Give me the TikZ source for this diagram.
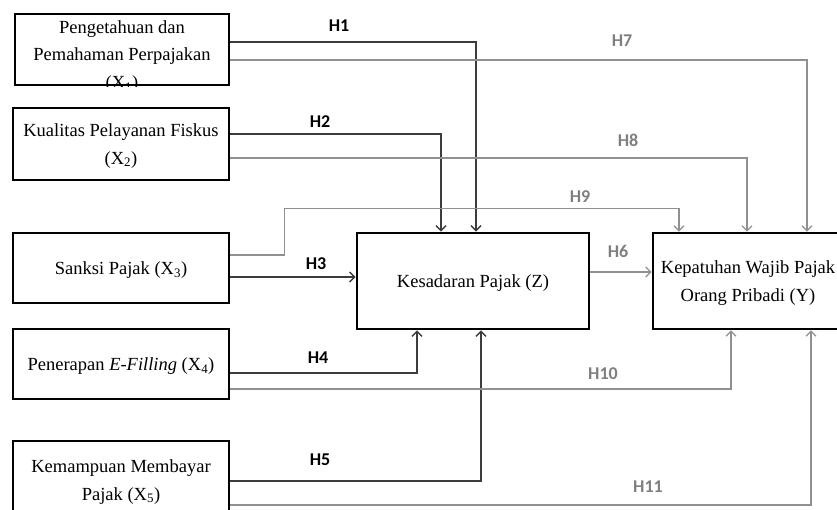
\documentclass[tikz,border=0pt]{standalone}
\usepackage{fontspec}
\setmainfont{Liberation Serif}
\newfontfamily\hypfont{Carlito}
\usepackage{xcolor}
\usetikzlibrary{arrows.meta,positioning,calc}

\definecolor{darkline}{HTML}{3C3C3C}
\definecolor{greyline}{HTML}{909090}
\definecolor{greylabel}{HTML}{7F7F7F}

\begin{document}
\begin{tikzpicture}[x=1pt,y=-1pt,
    >={Straight Barb[length=5pt,width=10pt]},
    boxtext/.style={align=center, inner sep=0pt, text depth=0pt,
        font=\fontsize{18.5}{27.5}\selectfont},
    varbox/.style={boxtext, draw, line width=2.6pt},
    thinbox/.style={draw, line width=1.1pt},
    darkarrow/.style={->, darkline, line width=1.4pt},
    greyarrow/.style={->, greyline, line width=1.3pt},
    hyp/.style={font=\hypfont\bfseries\fontsize{18}{18}\selectfont},
    hypgrey/.style={hyp, text=greylabel}]
    \clip (0,0) rectangle (837,509);

    % Independent variables
    \node[thinbox, minimum width=214pt, minimum height=71pt] (x1) at (122,49.5) {};
    \node[boxtext] (x1text) at ([yshift=-5pt]x1.center)
        {Pengetahuan dan\\Pemahaman Perpajakan\\(X\textsubscript{1})};
    \fill[white] (10,86.5) rectangle (235,100);
    \node[varbox, minimum width=216pt, minimum height=72pt] (x2) at (121,144)
        {Kualitas Pelayanan Fiskus\\(X\textsubscript{2})};
    \node[varbox, minimum width=216pt, minimum height=70pt] (x3) at (121,268)
        {Sanksi Pajak (X\textsubscript{3})};
    \node[varbox, minimum width=216pt, minimum height=70pt] (x4) at (121,364)
        {Penerapan \textit{E-Filling} (X\textsubscript{4})};
    \node[varbox, minimum width=216pt, minimum height=78pt] (x5) at (121,480)
        {Kemampuan Membayar\\Pajak (X\textsubscript{5})};

    % Intervening and dependent variable
    \node[varbox, minimum width=232pt, minimum height=96pt] (z) at (473,281)
        {Kesadaran Pajak (Z)};
    \node[varbox, minimum width=190pt, minimum height=96pt] (y) at (748,281)
        {Kepatuhan Wajib Pajak\\Orang Pribadi (Y)};

    % Paths to Z
    \draw[darkarrow] ([yshift=7.5pt]x1.east) -| ([xshift=3pt]z.north);
    \draw[darkarrow] ([yshift=10pt]x2.east) -| ([xshift=-32pt]z.north);
    \draw[darkarrow] ([yshift=-9pt]x3.east) -- ([yshift=4pt]z.west);
    \draw[darkarrow] ([yshift=-9pt]x4.east) -| ([xshift=-56pt]z.south);
    \draw[darkarrow] ([yshift=-1pt]x5.east) -| ([xshift=8pt]z.south);

    % Paths to Y
    \draw[greyarrow] ([yshift=9pt]z.east) -- ([yshift=9pt]y.west);
    \draw[greyarrow] ([yshift=-10.5pt]x1.east) -| ([xshift=59pt]y.north);
    \draw[greyarrow] ([yshift=-14pt]x2.east) -| ([xshift=-1pt]y.north);
    \draw[greyarrow] ([yshift=13pt]x3.east) -- ++(54,0)
        |- ([xshift=-69pt,yshift=23pt]y.north) -- ([xshift=-69pt]y.north);
    \draw[greyarrow] ([yshift=-25pt]x4.east) -| ([xshift=-17pt]y.south);
    \draw[greyarrow] ([yshift=-25pt]x5.east) -| ([xshift=63pt]y.south);

    % Hypothesis labels
    \node[hyp] (h1) at (339,26) {H1};
    \node[hyp] (h2) at (320,122) {H2};
    \node[hyp] (h3) at (316,264) {H3};
    \node[hyp] (h4) at (318,358) {H4};
    \node[hyp] (h5) at (320,460) {H5};
    \node[hypgrey] (h6) at (618,251) {H6};
    \node[hypgrey] (h7) at (622,41) {H7};
    \node[hypgrey] (h8) at (628,140) {H8};
    \node[hypgrey] (h9) at (580,197) {H9};
    \node[hypgrey] (h10) at (603,374) {H10};
    \node[hypgrey] (h11) at (648,487) {H11};
\end{tikzpicture}
\end{document}
